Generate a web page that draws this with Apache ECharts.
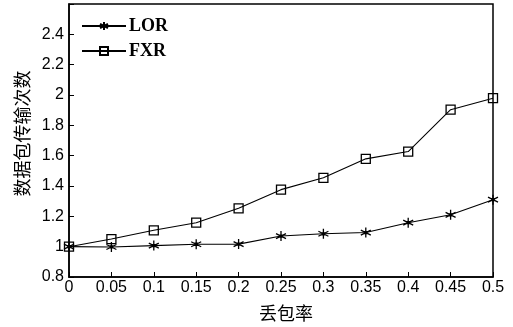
<!DOCTYPE html>
<html>
<head>
<meta charset="utf-8">
<script src="https://cdn.jsdelivr.net/npm/echarts@6/dist/echarts.min.js"></script>
<style>html,body{margin:0;padding:0;background:#fff}#c{width:513px;height:327px}</style>
</head>
<body>
<div id="c"></div>
<script>
const lossRates = [0, 0.05, 0.1, 0.15, 0.2, 0.25, 0.3, 0.35, 0.4, 0.45, 0.5];
const lorValues = [1.0, 0.998, 1.007, 1.016, 1.017, 1.07, 1.085, 1.093, 1.158, 1.21, 1.31];
const fxrValues = [1.0, 1.05, 1.108, 1.158, 1.253, 1.376, 1.454, 1.579, 1.627, 1.903, 1.979];
const seriesNames = ['LOR', 'FXR'];
const xTitle = '丢包率';
const yTitle = '数据包传输次数';

const chart = echarts.init(document.getElementById('c'), null, {renderer: 'canvas'});
const star = 'path://M5,0L5,10M0.7,2.5L9.3,7.5M0.7,7.5L9.3,2.5M4,4L6,4L6,6L4,6Z';
const box = 'path://M0,0L10,0L10,10L0,10Z';
const cjk = '"Noto Sans CJK SC", sans-serif';
const sans = '"Liberation Sans", Arial, sans-serif';

chart.setOption({
  animation: false,
  grid: {left: 69, right: 20, top: 4, bottom: 45, show: true, borderColor: '#000', borderWidth: 1.5, containLabel: false},
  legend: {
    left: 76, top: 12, orient: 'vertical', itemWidth: 44, itemHeight: 10, itemGap: 7,
    textStyle: {fontFamily: '"Liberation Serif", "Times New Roman", serif', fontWeight: 'bold', fontSize: 18, color: '#000', padding: [0, 0, 0, -2]},
    data: seriesNames
  },
  xAxis: {
    type: 'value', min: 0, max: 0.5, interval: 0.05,
    name: xTitle, nameLocation: 'middle', nameGap: 27,
    nameTextStyle: {fontFamily: cjk, fontSize: 18, color: '#000', padding: [0, 0, 0, 10]},
    axisLine: {show: true, lineStyle: {color: '#000', width: 1.5}},
    axisTick: {show: true, inside: true, length: 5, lineStyle: {color: '#000'}},
    axisLabel: {fontFamily: sans, fontSize: 16, color: '#000', margin: 3},
    splitLine: {show: false}
  },
  yAxis: {
    type: 'value', min: 0.8, max: 2.6, interval: 0.2,
    name: yTitle, nameLocation: 'middle', nameGap: 36,
    nameTextStyle: {fontFamily: cjk, fontSize: 18, color: '#000', padding: [0, 0, 0, 14]},
    axisLine: {show: true, lineStyle: {color: '#000', width: 1.5}},
    axisTick: {show: true, inside: true, length: 5, lineStyle: {color: '#000'}},
    axisLabel: {fontFamily: sans, fontSize: 16, color: '#000', margin: 5,
      formatter: v => (Math.abs(v - 2.6) < 1e-6 ? '' : String(Math.round(v * 10) / 10))},
    splitLine: {show: false}
  },
  series: [
    {
      name: seriesNames[0], type: 'line',
      data: lossRates.map((x, i) => [x, lorValues[i]]),
      symbol: star, symbolSize: 10, showAllSymbol: true,
      lineStyle: {color: '#000', width: 1.1},
      itemStyle: {color: '#000', borderColor: '#000', borderWidth: 1.3}
    },
    {
      name: seriesNames[1], type: 'line',
      data: lossRates.map((x, i) => [x, fxrValues[i]]),
      symbol: box, symbolSize: 9, showAllSymbol: true,
      lineStyle: {color: '#000', width: 1.1},
      itemStyle: {color: 'rgba(0,0,0,0)', borderColor: '#000', borderWidth: 1.3}
    }
  ]
});
</script>
</body>
</html>
